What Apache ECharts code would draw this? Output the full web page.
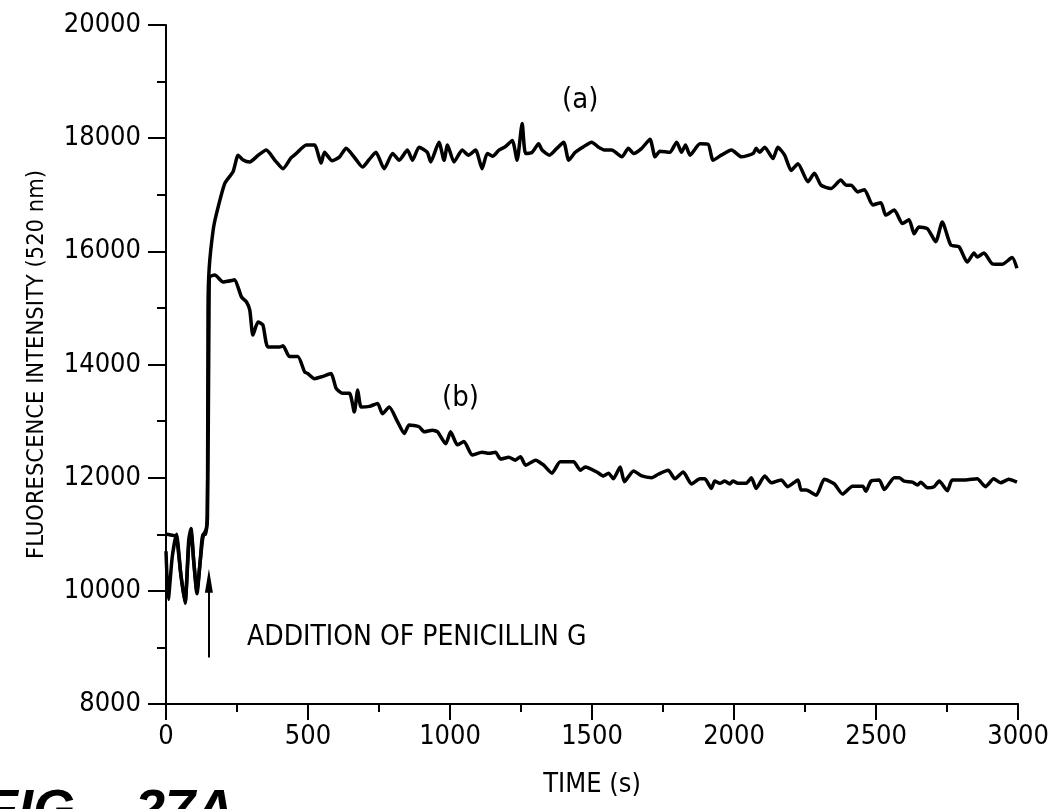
<!DOCTYPE html>
<html>
<head>
<meta charset="utf-8">
<script src="https://cdn.jsdelivr.net/npm/echarts@6/dist/echarts.min.js"></script>
<style>
html,body{margin:0;padding:0;background:#fff;}
#chart{width:1052px;height:809px;}
</style>
</head>
<body>
<div id="chart"></div>
<script>
// ---- data (time in s, fluorescence intensity) ----
const yTicks = [8000, 10000, 12000, 14000, 16000, 18000, 20000];
const xTicks = [0, 500, 1000, 1500, 2000, 2500, 3000];

const timeA = [0,25,37,52,67,80,88,98,109,120,130,142,146,148,152,166,178,207,236,254,270,295,325,353,385,412,440,459,494,523,546,558,585,611,634,665,692,715,739,768,798,821,850,868,891,920,932,961,979,991,1014,1043,1065,1090,1113,1131,1150,1172,1195,1219,1236,1254,1266,1289,1312,1324,1350,1376,1400,1418,1441,1470,1499,1523,1546,1569,1605,1628,1646,1675,1704,1722,1739,1774,1798,1815,1829,1845,1880,1909,1926,1955,1991,2026,2067,2078,2090,2108,2137,2154,2178,2201,2225,2260,2283,2306,2341,2376,2394,2412,2435,2459,2488,2517,2534,2564,2593,2616,2634,2651,2681,2710,2733,2763,2792,2821,2845,2856,2880,2909,2944,2979,2996];
const valueA = [11000,10980,10950,10300,9800,10800,11050,10500,10000,10500,10950,11100,11300,15000,15700,16375,16670,17200,17405,17700,17620,17580,17700,17790,17600,17460,17650,17730,17880,17880,17560,17750,17600,17670,17820,17650,17490,17620,17750,17460,17730,17610,17790,17610,17840,17750,17580,17930,17610,17880,17580,17790,17700,17790,17460,17730,17680,17790,17850,17960,17610,18260,17730,17750,17900,17790,17700,17820,17930,17610,17750,17850,17930,17840,17790,17790,17670,17820,17730,17820,17980,17670,17770,17750,17930,17750,17880,17700,17900,17890,17610,17700,17790,17670,17730,17820,17750,17840,17640,17840,17700,17430,17550,17230,17380,17170,17110,17260,17170,17170,17050,17090,16820,16860,16640,16730,16490,16560,16310,16430,16400,16170,16520,16110,16080,15810,15970,15900,15970,15780,15770,15890,15700];

const timeB = [0,8,22,37,52,67,80,88,98,109,120,130,140,145,149,152,154,172,201,236,242,266,283,295,306,324,341,359,400,412,435,464,488,499,523,552,581,599,622,646,663,675,687,716,745,762,786,815,839,856,891,909,938,956,985,1002,1026,1049,1078,1113,1137,1160,1178,1207,1230,1248,1266,1301,1330,1359,1388,1435,1459,1476,1517,1540,1558,1575,1599,1614,1646,1675,1710,1733,1768,1792,1821,1850,1880,1897,1920,1932,1950,1967,1985,1996,2014,2043,2061,2078,2108,2131,2166,2189,2225,2236,2254,2289,2318,2353,2382,2417,2453,2464,2482,2511,2529,2564,2581,2599,2628,2646,2657,2681,2704,2722,2751,2768,2815,2856,2885,2914,2938,2967,2996];
const valueB = [10700,9850,10600,11000,10300,9780,10900,11100,10500,9950,10500,11000,11000,11300,13000,15400,15550,15580,15460,15490,15500,15190,15110,14960,14520,14750,14700,14310,14310,14330,14140,14140,13870,13840,13750,13790,13840,13580,13490,13490,13160,13550,13250,13260,13310,13130,13250,12990,12780,12930,12900,12810,12840,12810,12600,12810,12580,12640,12400,12450,12430,12450,12330,12360,12310,12370,12220,12310,12220,12080,12280,12280,12130,12190,12100,12030,12080,11980,12190,11930,12120,12030,12000,12060,12130,11980,12100,11890,11980,11980,11810,11940,11900,11940,11890,11940,11900,11900,12000,11810,12030,11910,11960,11840,11960,11780,11780,11690,11970,11890,11710,11850,11850,11760,11940,11960,11790,12000,12000,11940,11920,11870,11920,11820,11840,11940,11770,11960,11960,11980,11840,11980,11910,11970,11920];

const arrowTime = 151;
const arrowFrom = 8820;
const arrowTo = 10180;

const FONT = "'Liberation Sans Narrow','DejaVu Sans Condensed',sans-serif";

const chart = echarts.init(document.getElementById('chart'), null, {renderer: 'canvas'});
const pairs = (t, v) => t.map((x, i) => [x, v[i]]);

chart.setOption({
  animation: false,
  backgroundColor: '#fff',
  grid: {left: 166, right: 31, top: 25, bottom: 105, containLabel: false},
  xAxis: {
    type: 'value', min: 0, max: 3000, interval: 500,
    name: 'TIME (s)', nameLocation: 'middle', nameGap: 67,
    nameTextStyle: {fontFamily: FONT, fontSize: 27, color: '#000'},
    axisLine: {lineStyle: {color: '#000', width: 2}},
    axisTick: {length: 16, lineStyle: {color: '#000', width: 2}},
    minorTick: {show: true, splitNumber: 2, length: 8, lineStyle: {color: '#000', width: 2}},
    axisLabel: {fontFamily: FONT, fontSize: 27, color: '#000', margin: 19, formatter: v => String(v)},
    splitLine: {show: false}
  },
  yAxis: {
    type: 'value', min: 8000, max: 20000, interval: 2000,
    name: 'FLUORESCENCE INTENSITY (520 nm)', nameLocation: 'middle', nameGap: 117,
    nameTextStyle: {fontFamily: FONT, fontSize: 23.5, color: '#000'},
    axisLine: {lineStyle: {color: '#000', width: 2}},
    axisTick: {length: 18, lineStyle: {color: '#000', width: 2}},
    minorTick: {show: true, splitNumber: 2, length: 9, lineStyle: {color: '#000', width: 2}},
    axisLabel: {fontFamily: FONT, fontSize: 27, color: '#000', margin: 25, formatter: v => String(v)},
    splitLine: {show: false}
  },
  series: [
    {
      name: '(a)', type: 'line', data: pairs(timeA, valueA), showSymbol: false,
      lineStyle: {color: '#000', width: 3.5}, smooth: 0.2
    },
    {
      name: '(b)', type: 'line', data: pairs(timeB, valueB), showSymbol: false,
      lineStyle: {color: '#000', width: 3.5}, smooth: 0.2,
      markLine: {
        silent: true, symbol: ['none', 'none'],
        lineStyle: {color: '#000', width: 2, type: 'solid'},
        label: {show: false},
        data: [[{coord: [arrowTime, arrowFrom]}, {coord: [arrowTime, arrowTo]}]]
      },
      markPoint: {
        silent: true, symbol: 'triangle', symbolSize: [8, 24],
        itemStyle: {color: '#000'}, label: {show: false},
        data: [{coord: [arrowTime, arrowTo]}]
      }
    }
  ],
  graphic: [
    {type: 'text', left: 562, top: 86, style: {text: '(a)', font: "29px " + FONT, fill: '#000'}},
    {type: 'text', left: 442, top: 384, style: {text: '(b)', font: "29px " + FONT, fill: '#000'}},
    {type: 'text', left: 247, top: 624, style: {text: 'ADDITION OF PENICILLIN G', font: "28px " + FONT, fill: '#000'}},
    {type: 'text', left: -15, top: 785, style: {text: 'FIG.   27A', font: "italic bold 54px 'Liberation Sans',sans-serif", fill: '#000'}}
  ]
});
</script>
</body>
</html>
